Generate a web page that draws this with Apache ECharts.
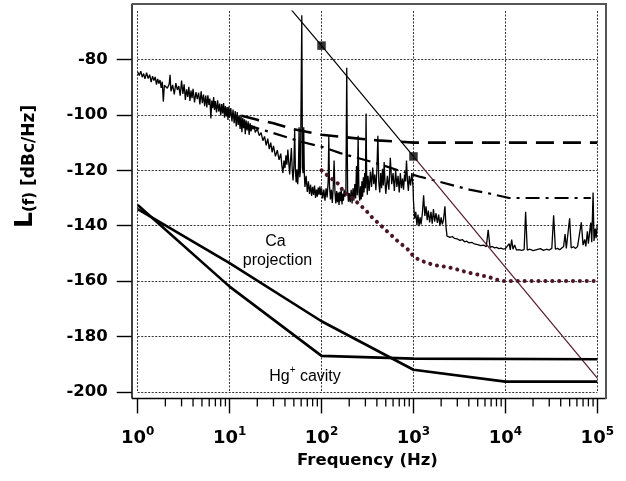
<!DOCTYPE html>
<html>
<head>
<meta charset="utf-8">
<script src="https://cdn.jsdelivr.net/npm/echarts@6/dist/echarts.min.js"></script>
<style>html,body{margin:0;padding:0;background:#fff}#c{width:626px;height:481px}</style>
</head>
<body>
<div id="c"></div>
<script>
// ---- data ----
const yTicks = [-200, -180, -160, -140, -120, -100, -80];
const minorTicks = [2,3,4,5,6,7,8,9,20,30,40,50,60,70,80,90,200,300,400,500,600,700,800,900,
  2000,3000,4000,5000,6000,7000,8000,9000,20000,30000,40000,50000,60000,70000,80000,90000];

const spectrum = [
[1.00,-84.5],[1.04,-85.8],[1.08,-84.2],[1.12,-86.4],[1.16,-85.1],[1.20,-87.0],[1.25,-84.8],[1.30,-86.9],[1.35,-85.5],[1.40,-88.2],
[1.45,-86.0],[1.50,-87.6],[1.55,-86.3],[1.60,-89.1],[1.65,-87.0],[1.70,-88.7],[1.75,-87.4],[1.80,-90.3],[1.85,-88.0],[1.90,-95.2],
[1.95,-89.3],[2.00,-88.6],[2.10,-90.4],[2.20,-88.9],[2.25,-85.5],[2.30,-91.5],[2.40,-89.2],[2.50,-92.6],[2.60,-88.5],[2.70,-91.0],[2.80,-89.6],
[2.90,-93.1],[3.00,-87.6],[3.10,-92.4],[3.20,-89.0],[3.30,-94.6],[3.40,-90.8],[3.50,-93.5],[3.60,-89.9],[3.70,-95.0],[3.80,-91.2],
[3.90,-94.0],[4.00,-90.6],[4.15,-95.5],[4.30,-91.8],[4.45,-94.3],[4.60,-92.0],[4.75,-96.2],[4.90,-91.5],[5.05,-95.8],[5.20,-92.7],
[5.35,-96.9],[5.50,-93.0],[5.65,-97.3],[5.80,-92.9],[5.95,-96.4],[6.10,-94.1],[6.25,-101.3],[6.40,-94.8],[6.55,-97.6],[6.70,-93.6],
[6.85,-98.2],[7.00,-95.0],[7.20,-99.1],[7.40,-94.7],[7.60,-98.8],[7.80,-95.9],[8.00,-100.2],[8.20,-96.1],[8.40,-99.5],[8.60,-95.7],
[8.80,-101.0],[9.00,-96.8],[9.20,-100.6],[9.40,-97.2],[9.60,-101.8],[9.80,-97.0],[10.0,-100.9],
[10.3,-97.5],[10.6,-102.4],[10.9,-98.1],[11.2,-103.0],[11.5,-98.6],[11.8,-104.2],[12.1,-99.0],[12.4,-103.6],[12.7,-100.2],[13.0,-105.1],
[13.3,-100.0],[13.6,-106.3],[13.9,-101.1],[14.2,-104.8],[14.5,-101.6],[14.8,-107.0],[15.1,-102.0],[15.5,-105.6],[15.9,-102.3],[16.3,-107.2],
[16.7,-103.0],[17.1,-106.0],[17.5,-103.8],[18.0,-105.2],[18.5,-104.0],
[19,-106.3],[20,-105.0],[21,-107.5],[22,-106.4],[23,-109.3],[24,-107.8],[25,-111.0],[26,-108.6],[27,-112.4],[28,-110.0],
[29,-113.5],[30,-111.2],[31.5,-115.0],[33,-112.7],[34.5,-116.2],[36,-114.0],[37,-118.3],[38,-121.0],[39,-116.5],[40,-119.2],
[41,-114.6],[42,-118.0],[43,-112.5],[44,-117.3],[45,-121.5],[46,-116.2],[47,-112.0],[48,-119.8],[49,-123.7],[50,-118.5],
[51,-105.5],[52,-120.3],[53,-124.4],[54,-119.6],[55,-125.0],[56,-121.0],[57,-104.5],[58,-122.5],[59,-120.0],[60,-120.5],[61,-64.0],[62,-119.0],
[63,-121.0],[64,-104.5],[65,-121.5],[66,-126.0],[68,-122.0],[70,-127.8],[72,-124.0],[74,-128.5],[76,-125.2],[78,-129.3],[80,-126.0],
[82,-128.9],[84,-125.5],[86,-130.0],[88,-127.0],[90,-129.5],[92,-126.2],[94,-128.8],[96,-125.8],[98,-129.0],[100,-126.5],
[103,-130.2],[106,-127.0],[109,-131.0],[112,-126.5],[115,-129.8],[118,-124.0],[120,-107.5],[122,-125.5],[125,-130.5],[128,-127.0],
[131,-131.8],[134,-126.2],[137,-116.5],[140,-128.0],[143,-132.0],[146,-127.5],[149,-131.5],[152,-128.0],[155,-132.5],[158,-127.8],
[161,-131.2],[164,-126.6],[167,-132.3],[170,-128.5],[173,-131.0],[176,-127.0],[180,-129.5],[184,-127.5],[188,-83.0],[192,-127.0],[196,-131.3],[200,-128.2],
[205,-131.5],[210,-127.0],[215,-132.0],[220,-126.5],[225,-131.0],[230,-125.0],[235,-130.2],[240,-118.5],[245,-129.0],[250,-107.5],
[255,-127.5],[260,-131.0],[265,-125.8],[270,-130.5],[275,-124.0],[280,-129.5],[285,-122.5],[290,-128.0],[295,-121.0],[300,-126.5],
[305,-99.5],[310,-124.0],[315,-128.8],[320,-122.0],[330,-127.5],[340,-120.5],[350,-126.0],[360,-119.0],[370,-125.0],[380,-121.5],
[390,-127.2],[400,-120.0],[410,-107.5],[420,-124.5],[430,-128.0],[440,-121.0],[450,-126.5],[460,-119.5],[470,-125.5],[480,-117.0],
[490,-124.0],[500,-128.5],[520,-122.0],[540,-127.0],[560,-115.5],[580,-125.0],[600,-121.0],[620,-127.5],[640,-120.0],[660,-126.0],
[680,-122.0],[700,-128.0],[720,-121.0],[740,-126.5],[760,-123.0],[780,-127.0],[800,-121.5],[820,-124.0],[840,-116.5],[860,-123.5],
[880,-127.5],[900,-122.0],[930,-125.5],[960,-121.0],[990,-126.0],
[1000,-131.0],[1030,-137.5],[1060,-135.0],[1090,-139.8],[1120,-136.0],[1150,-140.2],[1180,-137.0],[1210,-139.5],[1250,-135.5],[1290,-129.0],
[1330,-136.5],[1370,-133.0],[1410,-138.0],[1450,-134.5],[1500,-138.8],[1550,-135.0],[1600,-139.3],[1650,-134.0],[1700,-138.5],[1760,-135.5],
[1820,-139.0],[1880,-136.0],[1940,-140.0],[2000,-137.0],[2060,-139.5],[2120,-138.0],[2200,-133.0],[2260,-140.5],[2320,-143.8],
[2400,-143.5],[2500,-144.2],[2650,-143.9],[2800,-144.6],[3000,-144.8],[3200,-145.3],[3400,-145.0],[3600,-145.8],[3800,-145.6],[4000,-146.2],
[4300,-146.0],[4600,-146.6],[5000,-146.8],[5400,-147.2],[5800,-147.0],[6200,-147.6],[6500,-141.5],[6800,-147.8],[7200,-147.5],[7600,-148.0],
[8000,-147.8],[8500,-148.3],[9000,-148.1],[9500,-148.5],[10000,-148.3],[10500,-148.6],[11000,-146.5],[11300,-148.7],[11700,-145.0],[12100,-148.5],
[12600,-147.0],[13200,-148.8],[14000,-148.6],[15000,-148.9],[16000,-148.6],[16600,-135.0],[17300,-148.8],[18500,-148.5],[20000,-149.0],[22000,-148.6],
[24000,-148.3],[26000,-148.9],[28000,-148.5],[30000,-148.8],[32000,-148.2],[33500,-136.2],[35000,-148.5],[37000,-148.2],[39000,-148.7],[41000,-148.0],
[43000,-147.5],[44600,-143.0],[46000,-148.2],[48000,-147.8],[50000,-137.3],[52000,-148.0],[55000,-147.6],[58000,-148.2],[61000,-147.5],[64000,-147.9],
[67000,-138.8],[70000,-147.0],[73000,-145.0],[75000,-147.5],[78000,-142.0],[80000,-146.5],[83000,-141.5],[85000,-138.9],[87000,-146.0],[90000,-128.0],
[92000,-145.5],[95000,-141.0],[97000,-144.5],[100000,-139.5]
];

const dashedLine = [[13.5,-100.3],[20,-101.8],[30,-103],[50,-105.2],[100,-107.2],[200,-108.2],[400,-109.2],[1000,-110],[100000,-110]];
const dashDotLine = [[15,-103.5],[30,-106.6],[60,-109.7],[100,-111.5],[160,-113.8],[400,-117.5],[850,-121],[1200,-122.4],[1800,-123.9],
  [2800,-125.6],[4200,-127.1],[6500,-128.3],[11000,-130],[85000,-130]];
const dottedLine = [[100,-120],[120,-122.3],[150,-124.7],[175,-127.7],[210,-129.7],[250,-131.9],[300,-134.3],[355,-137],[415,-139.1],
  [500,-141.6],[600,-144],[700,-146.1],[850,-148.2],[1000,-151],[1180,-152.6],[1400,-153.3],[1650,-154.2],[2000,-154.6],[2400,-155],
  [2850,-155.6],[3300,-156.2],[4000,-157],[4700,-157.4],[5500,-158],[6500,-158.4],[7600,-159.3],[9500,-160],[100000,-160]];
const diagBlack = [[47,-62.1],[100,-75],[1000,-115]];
const diagMaroon = [[1000,-115],[100000,-195]];
const diagMarkers = [[100,-75],[1000,-115]];
const caProjection = [[1,-134],[10,-153.5],[100,-174.5],[1000,-192],[10000,-196.3],[100000,-196.3]];
const hgCavity = [[1,-132.5],[10,-162],[100,-187],[1000,-188],[100000,-188.2]];

const Y_MIN = -200, Y_MAX = -62.5;
const BOLD = 'DejaVu Sans';
const REG = 'Liberation Sans';

const chart = echarts.init(document.getElementById('c'), null, {renderer: 'canvas'});
const lineBase = {type: 'line', showSymbol: false, symbol: 'none', silent: true, animation: false};

chart.setOption({
  animation: false,
  backgroundColor: '#fff',
  grid: {left: 137.7, right: 28.7, top: 11, bottom: 89.1, containLabel: false},
  xAxis: {
    type: 'log', logBase: 10, min: 1, max: 100000, offset: 6.5,
    axisLine: {show: false},
    axisTick: {show: true, length: 15, lineStyle: {color: '#000', width: 1.4}},
    splitLine: {show: true, lineStyle: {color: '#333', width: 1, type: [2, 1.5]}},
    minorTick: {show: false}, minorSplitLine: {show: false},
    axisLabel: {
      margin: 27, color: '#000',
      formatter: v => '{b|10}{s|' + Math.round(Math.log10(v)) + '}',
      rich: {
        b: {fontFamily: BOLD, fontWeight: 'bold', fontSize: 18, lineHeight: 22, verticalAlign: 'bottom', color: '#000'},
        s: {fontFamily: BOLD, fontWeight: 'bold', fontSize: 12, lineHeight: 12, verticalAlign: 'top', color: '#000'}
      }
    },
    name: 'Frequency (Hz)', nameLocation: 'middle', nameGap: 47,
    nameTextStyle: {fontFamily: BOLD, fontWeight: 'bold', fontSize: 16.5, color: '#000'}
  },
  yAxis: {
    type: 'value', min: Y_MIN, max: Y_MAX, offset: 6,
    axisLine: {show: false},
    axisTick: {show: true, length: 15, customValues: yTicks, lineStyle: {color: '#000', width: 1.4}},
    axisLabel: {customValues: yTicks, margin: 24, fontFamily: BOLD, fontWeight: 'bold', fontSize: 16.5, color: '#000'},
    splitLine: {show: true, lineStyle: {color: '#333', width: 1, type: [2, 1.5]}}
  },
  graphic: [
    {type: 'line', shape: {x1: 132, y1: 4, x2: 132, y2: 398.5}, style: {stroke: '#000', lineWidth: 1.5}, z: 10},
    {type: 'line', shape: {x1: 132, y1: 398.5, x2: 606, y2: 398.5}, style: {stroke: '#000', lineWidth: 1.5}, z: 10},
    {type: 'line', shape: {x1: 131.5, y1: 4, x2: 607, y2: 4}, style: {stroke: '#555', lineWidth: 2}, z: 10},
    {type: 'line', shape: {x1: 606, y1: 4, x2: 606, y2: 399}, style: {stroke: '#555', lineWidth: 2}, z: 10},
    {type: 'text', x: 275.5, y: 241.5, z: 10,
      style: {text: 'Ca', fontFamily: REG, fontSize: 16, fill: '#000', align: 'center', verticalAlign: 'middle'}},
    {type: 'text', x: 277.5, y: 260.5, z: 10,
      style: {text: 'projection', fontFamily: REG, fontSize: 16, fill: '#000', align: 'center', verticalAlign: 'middle'}},
    {type: 'text', x: 305, y: 375, z: 10,
      style: {text: '{a|Hg}{s|+}{a| cavity}', align: 'center', verticalAlign: 'middle',
        rich: {a: {fontFamily: REG, fontSize: 16, lineHeight: 20, verticalAlign: 'bottom', fill: '#000'},
               s: {fontFamily: REG, fontSize: 10, lineHeight: 10, verticalAlign: 'top', fill: '#000'}}}},
    {type: 'text', x: 24, y: 228, rotation: Math.PI / 2, z: 10,
      style: {text: '{L|L}{f|(f)}{u| [dBc/Hz]}', align: 'left', verticalAlign: 'middle',
        rich: {L: {fontFamily: BOLD, fontWeight: 'bold', fontSize: 25, lineHeight: 28, verticalAlign: 'bottom', fill: '#000'},
               f: {fontFamily: BOLD, fontWeight: 'bold', fontSize: 15, lineHeight: 16, verticalAlign: 'bottom', fill: '#000'},
               u: {fontFamily: BOLD, fontWeight: 'bold', fontSize: 17, lineHeight: 22, verticalAlign: 'bottom', fill: '#000'}}}}
  ],
  series: [
    Object.assign({}, lineBase, {name: 'spectrum', data: spectrum, lineStyle: {color: '#000', width: 1.3}, z: 3}),
    Object.assign({}, lineBase, {name: 'dashed', data: dashedLine, lineStyle: {color: '#000', width: 2.6, type: [18, 9]}, z: 4}),
    Object.assign({}, lineBase, {name: 'dashdot', data: dashDotLine, lineStyle: {color: '#000', width: 2.2, type: [14, 6, 3, 6]}, z: 4}),
    Object.assign({}, lineBase, {name: 'dotted', data: dottedLine, lineStyle: {color: '#4a1626', width: 4, type: [0.1, 6.8], cap: 'round'}, z: 4}),
    Object.assign({}, lineBase, {name: 'diagBlack', data: diagBlack, lineStyle: {color: '#000', width: 1.2}, z: 5}),
    Object.assign({}, lineBase, {name: 'diagMaroon', data: diagMaroon, lineStyle: {color: '#551b2c', width: 1.2}, z: 5}),
    {type: 'scatter', name: 'markers', data: diagMarkers, symbol: 'rect', symbolSize: 8.5, itemStyle: {color: '#000'}, silent: true, z: 6, animation: false},
    Object.assign({}, lineBase, {name: 'Ca projection', data: caProjection, lineStyle: {color: '#000', width: 2.6}, z: 5}),
    Object.assign({}, lineBase, {name: 'Hg+ cavity', data: hgCavity, lineStyle: {color: '#000', width: 2.6}, z: 5}),
    {type: 'custom', name: 'minorTicks', silent: true, animation: false, clip: false, z: 6,
      data: minorTicks.map(f => [f, Y_MIN]),
      renderItem: (params, api) => {
        const p = api.coord([api.value(0), api.value(1)]);
        return {type: 'line', shape: {x1: p[0], y1: p[1] + 6.5, x2: p[0], y2: p[1] + 14.5},
                style: {stroke: '#000', lineWidth: 1.3}};
      }}
  ]
});
</script>
</body>
</html>
